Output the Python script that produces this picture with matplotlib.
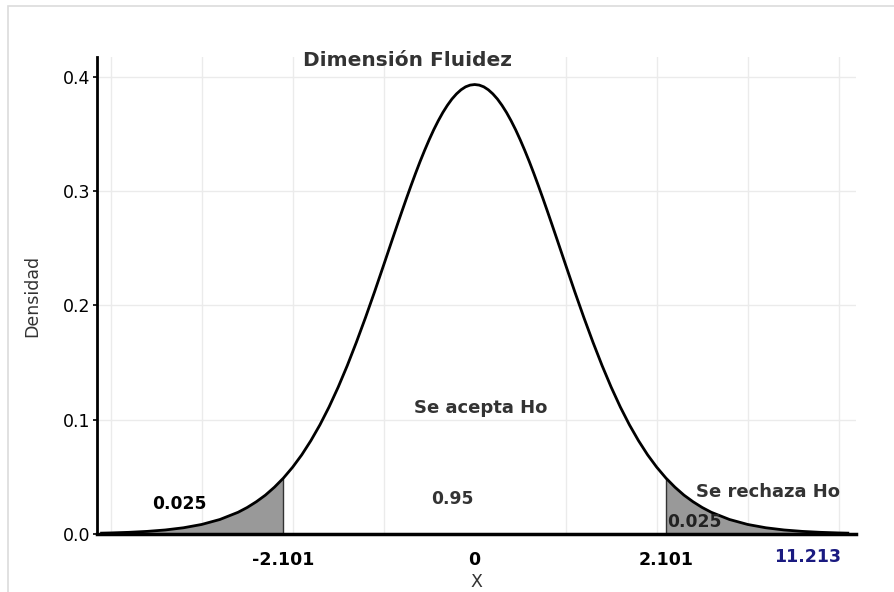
import matplotlib
matplotlib.use("Agg")
import matplotlib.pyplot as plt
from matplotlib.patches import Rectangle
from matplotlib.transforms import blended_transform_factory

plt.rcParams['font.family'] = ['DejaVu Sans']

# densidad t (gl = 18)
t_vals = [-4.1, -4.0, -3.8, -3.6, -3.4, -3.2, -3.0, -2.8, -2.6, -2.5, -2.4, -2.3, -2.2, -2.101,
          -2.0, -1.9, -1.8, -1.7, -1.6, -1.5, -1.4, -1.3, -1.2, -1.1, -1.0, -0.9, -0.85, -0.8,
          -0.75, -0.7, -0.65, -0.6, -0.55, -0.5, -0.45, -0.4, -0.35, -0.3, -0.25, -0.2, -0.15,
          -0.1, -0.05, 0.0, 0.05, 0.1, 0.15, 0.2, 0.25, 0.3, 0.35, 0.4, 0.45, 0.5, 0.55, 0.6,
          0.65, 0.7, 0.75, 0.8, 0.85, 0.9, 1.0, 1.1, 1.2, 1.3, 1.4, 1.5, 1.6, 1.7, 1.8, 1.9,
          2.0, 2.101, 2.2, 2.3, 2.4, 2.5, 2.6, 2.8, 3.0, 3.2, 3.4, 3.6, 3.8, 4.0, 4.1]
densidad = [0.00075, 0.00094, 0.00146, 0.00228, 0.00353, 0.00545, 0.00835, 0.0127, 0.0190,
            0.0232, 0.0282, 0.0340, 0.0410, 0.0490, 0.0585, 0.0693, 0.0817, 0.0956, 0.1112,
            0.1285, 0.1474, 0.1678, 0.1894, 0.2120, 0.2354, 0.2590, 0.2707, 0.2823, 0.2937,
            0.3048, 0.3156, 0.3260, 0.3358, 0.3451, 0.3538, 0.3617, 0.3689, 0.3752, 0.3807,
            0.3852, 0.3888, 0.3914, 0.3929, 0.3934, 0.3929, 0.3914, 0.3888, 0.3852, 0.3807,
            0.3752, 0.3689, 0.3617, 0.3538, 0.3451, 0.3358, 0.3260, 0.3156, 0.3048, 0.2937,
            0.2823, 0.2707, 0.2590, 0.2354, 0.2120, 0.1894, 0.1678, 0.1474, 0.1285, 0.1112,
            0.0956, 0.0817, 0.0693, 0.0585, 0.0490, 0.0410, 0.0340, 0.0282, 0.0232, 0.0190,
            0.0127, 0.00835, 0.00545, 0.00353, 0.00228, 0.00146, 0.00094, 0.00075]

t_critico = 2.101
t_calculado = 11.213
x_ticks = [-t_critico, 0, t_critico]
x_tick_labels = ['-2.101', '0', '2.101']
y_ticks = [0.0, 0.1, 0.2, 0.3, 0.4]
y_tick_labels = ['0.0', '0.1', '0.2', '0.3', '0.4']

fig = plt.figure(figsize=(8.94, 5.92), dpi=100)
fig.patches.append(Rectangle((8 / 894, -0.1), 1.2, 1.1 - 6 / 592, transform=fig.transFigure,
                             fill=False, edgecolor='#dcdcdc', linewidth=1.2))
ax = fig.add_axes([97 / 894, 1 - 534 / 592, (856 - 97) / 894, (534 - 57) / 592])

ax.plot(t_vals, densidad, color='black', linewidth=2, zorder=3,
        solid_joinstyle='round', antialiased=True)

izq = [(t, d) for t, d in zip(t_vals, densidad) if t <= -t_critico]
der = [(t, d) for t, d in zip(t_vals, densidad) if t >= t_critico]
for seg in (izq, der):
    xs = [p[0] for p in seg]
    ys = [p[1] for p in seg]
    ax.fill_between(xs, 0, ys, color='#999999', linewidth=0, zorder=2)
d_crit = densidad[t_vals.index(t_critico)]
ax.vlines([-t_critico, t_critico], 0, d_crit, color='#333333', linewidth=1, zorder=2)

ax.set_xlim(-4.15, 4.19)
ax.set_ylim(0, 0.4175)

ax.set_xticks(x_ticks)
ax.set_xticklabels(x_tick_labels, fontsize=12.5, fontweight='bold', color='black')
ax.set_xticks(range(-4, 5), minor=True)
ax.tick_params(axis='x', which='both', length=0, pad=12)
ax.set_yticks(y_ticks)
ax.set_yticklabels(y_tick_labels, fontsize=12.5, color='black')
ax.tick_params(axis='y', length=3, width=1.2, pad=2)

ax.grid(False)
ax.grid(True, axis='x', which='minor', color='#ebebeb', linewidth=1, zorder=0)
ax.grid(True, axis='y', which='major', color='#ebebeb', linewidth=1, zorder=0)
ax.set_axisbelow(True)

for s in ('top', 'right'):
    ax.spines[s].set_visible(False)
ax.spines['left'].set_linewidth(2)
ax.spines['bottom'].set_linewidth(2.5)

ax.set_ylabel('Densidad', fontsize=12.5, color='#333333', labelpad=15)
ax.set_xlabel('X', fontsize=12.5, color='#333333', labelpad=3)

ax.text(-0.74, 0.414, 'Dimensión Fluidez', fontsize=14.5, fontweight='bold', color='#333333',
        ha='center', va='center')
ax.text(-3.24, 0.026, '0.025', fontsize=12.3, fontweight='bold', color='black', ha='center', va='center')
ax.text(-0.24, 0.031, '0.95', fontsize=12.3, fontweight='bold', color='#333333', ha='center', va='center')
ax.text(0.07, 0.110, 'Se acepta Ho', fontsize=13, fontweight='bold', color='#333333', ha='center', va='center')
ax.text(3.22, 0.037, 'Se rechaza Ho', fontsize=13, fontweight='bold', color='#333333', ha='center', va='center')
ax.text(2.41, 0.0105, '0.025', fontsize=12.3, fontweight='bold', color='#222222', ha='center', va='center')

trans = blended_transform_factory(ax.transData, ax.transAxes)
ax.text(3.66, -0.048, f'{t_calculado:.3f}', transform=trans, fontsize=12.5, fontweight='bold',
        color='#1a1a80', ha='center', va='center')

fig.savefig('out.png', dpi=100)
